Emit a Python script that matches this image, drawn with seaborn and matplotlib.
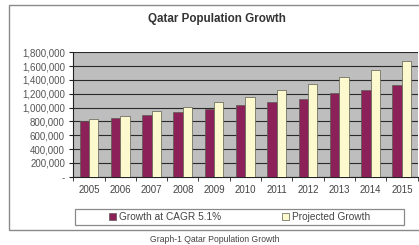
import pandas as pd
import matplotlib.pyplot as plt
import matplotlib.ticker as mticker
from matplotlib.patches import Rectangle
import seaborn as sns

years = ['2005', '2006', '2007', '2008', '2009', '2010',
         '2011', '2012', '2013', '2014', '2015']
growth_cagr = [800000, 845000, 893000, 937000, 980000, 1038000,
               1081000, 1129000, 1207000, 1250000, 1322000]
projected = [830000, 878000, 946000, 1004000, 1086000, 1158000,
             1255000, 1342000, 1448000, 1549000, 1670000]
series_names = ['Growth at CAGR 5.1%', 'Projected Growth']

df = pd.DataFrame({
    'year': years * 2,
    'population': growth_cagr + projected,
    'series': [series_names[0]] * len(years) + [series_names[1]] * len(years),
})

sns.set_style("ticks")
plt.rcParams['font.family'] = ['Liberation Sans', 'DejaVu Sans']

fig = plt.figure(figsize=(4.19, 2.45), dpi=100)
fig.patch.set_facecolor('white')

# outer chart frame (right edge is cropped in the original)
fig.patches.append(Rectangle((9 / 419, 15 / 245), 1.0, 225 / 245,
                             transform=fig.transFigure, fill=False,
                             edgecolor='#8a8a8a', linewidth=1.0, zorder=0))

ax = fig.add_axes([73.3 / 419, 68.3 / 245, 344.2 / 419, 124.4 / 245])
ax.set_facecolor('#bebebe')

sns.barplot(data=df, x='year', y='population', hue='series',
            palette=['#8b2158', '#fdf9cf'], width=0.6, saturation=1,
            edgecolor='#5c5c50', linewidth=0.5, ax=ax, zorder=3)

ax.set_ylim(0, 1800000)
ax.set_xlim(-0.5, 10.5)
ax.yaxis.set_major_locator(mticker.MultipleLocator(200000))
ax.yaxis.set_major_formatter(mticker.FuncFormatter(
    lambda v, p: '-' if v == 0 else f'{int(v):,}'))
ax.grid(axis='y', color='#2a2a2a', linewidth=0.8, zorder=1)
ax.set_axisbelow(True)

ax.set_xticks([i - 0.5 for i in range(12)], minor=True)
ax.tick_params(axis='x', which='major', length=0, pad=6,
               labelsize=7, labelcolor='#444444')
ax.tick_params(axis='x', which='minor', length=3, color='#222222')
ax.tick_params(axis='y', length=3, color='#222222', pad=3,
               labelsize=7, labelcolor='#555555')
ax.set_xlabel('')
ax.set_ylabel('')

for side in ['top', 'right']:
    ax.spines[side].set_visible(False)
for side in ['left', 'bottom']:
    ax.spines[side].set_color('#222222')
    ax.spines[side].set_linewidth(0.8)

ax.legend_.remove()
handles, labels = ax.get_legend_handles_labels()
fig.legend(handles, labels, loc='center', ncol=2, frameon=False,
           bbox_to_anchor=(239.5 / 419, 28 / 245), fontsize=7.3,
           handlelength=0.7, handleheight=0.7, handletextpad=0.3,
           columnspacing=6.0, labelcolor='#444444')
fig.patches.append(Rectangle((75 / 419, 20 / 245), 329 / 419, 16 / 245,
                             transform=fig.transFigure, fill=False,
                             edgecolor='#8a8a8a', linewidth=0.9))

fig.text(217 / 419, 1 - 19 / 245, 'Qatar Population Growth',
         ha='center', va='center', fontsize=8.4, fontweight='bold',
         color='#333333')
fig.text(215 / 419, 1 - 239 / 245, 'Graph-1 Qatar Population Growth',
         ha='center', va='center', fontsize=6.2, color='#444444')

fig.savefig('out.png', dpi=100)
